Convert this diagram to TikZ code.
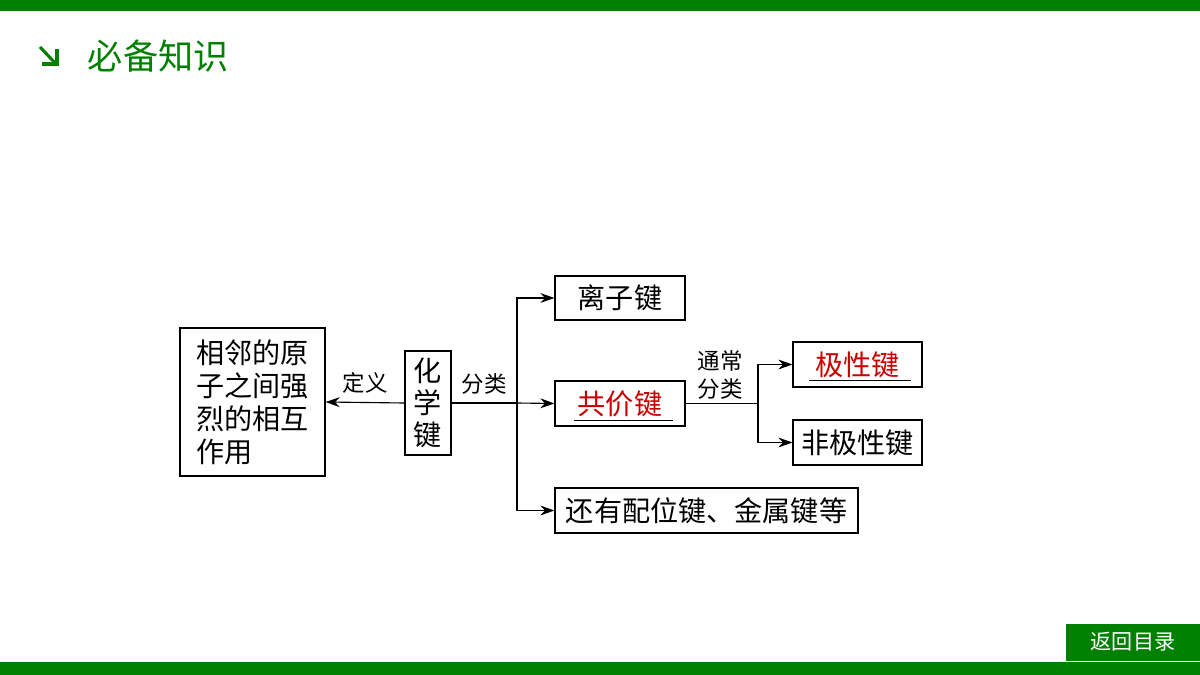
\documentclass[tikz,border=0pt]{standalone}
\usepackage{fontspec}
\setmainfont{Noto Sans CJK SC}
\definecolor{BarGreen}{RGB}{0, 128, 0}
\definecolor{KeyRed}{RGB}{200, 0, 0}
\usetikzlibrary{arrows.meta, positioning, calc}
\newlength\px
\setlength\px{0.025cm}

\tikzset{
  box/.style={draw, thick, inner sep=0pt, font=\fontsize{20}{23.4}\selectfont},
  lbl/.style={font=\fontsize{16}{19}\selectfont, inner sep=0pt},
  arr/.style={thick, -{Stealth[length=10pt, width=7pt]}}
}

\begin{document}
\begin{tikzpicture}[x=0.025cm, y=-0.025cm]
    \useasboundingbox (0,0) rectangle (1200,675);

    % Frame bars
    \fill[BarGreen] (0,0) rectangle (1200,11);
    \fill[BarGreen] (0,662) rectangle (1200,675);
    \fill[BarGreen] (1066,624) rectangle (1200,661);
    \node[white, font=\fontsize{15}{17}\selectfont] (back) at (1133,642) {返回目录};

    % Title
    \draw[BarGreen, line width=2.2pt] (40,47) -- (56,64);
    \draw[BarGreen, line width=2.2pt] (42,64) -- (57,64) -- (57,49);
    \node[BarGreen, anchor=west, font=\fontsize{25}{28}\selectfont] (title) at (83,56) {必备知识};

    % Boxes
    \node[box, minimum width=145\px, minimum height=148\px, align=left] (def) at (252.5,402)
        {相邻的原\\子之间强\\烈的相互\\作用\phantom{的相}};
    \node[box, minimum width=46\px, minimum height=104\px, align=center, font=\fontsize{20}{22.5}\selectfont] (bond) at (428,403) {化\\学\\键};
    \node[box, minimum width=130\px, minimum height=44\px] (ionic) at (620,298) {离子键};
    \node[box, minimum width=130\px, minimum height=45\px, text=KeyRed] (cov) at (620,403.5) {共价键};
    \node[box, minimum width=129\px, minimum height=45\px, text=KeyRed] (polar) at (857.5,364.5) {极性键};
    \node[box, minimum width=129\px, minimum height=45\px] (nonpolar) at (857.5,442.5) {非极性键};
    \node[box, minimum width=303\px, minimum height=45\px] (other) at (706.5,510.5) {还有配位键、金属键等};

    % Underlines for answers
    \draw[thick] ($(cov.south west)+(20,-6)$) -- ($(cov.south east)+(-13,-6)$);
    \draw[thick] ($(polar.south west)+(17,-7)$) -- ($(polar.south east)+(-12,-7)$);

    % Connectors
    \draw[arr] (bond.west) -- (def.east) node[lbl, midway, above=6pt] {定义};
    \coordinate (split) at (517,403);
    \draw[thick] (bond.east) -- (split) node[lbl, midway, above=6pt] {分类};
    \draw[arr] (split) -- (cov.west);
    \draw[arr] (split) |- (ionic.west);
    \draw[arr] (split) |- (other.west);
    \coordinate (split2) at (758,403.5);
    \draw[thick] (cov.east) -- (split2);
    \node[lbl, align=center, font=\fontsize{16}{20}\selectfont] (kind) at (720,375) {通常\\分类};
    \draw[arr] (split2) |- (polar.west);
    \draw[arr] (split2) |- (nonpolar.west);
\end{tikzpicture}
\end{document}
